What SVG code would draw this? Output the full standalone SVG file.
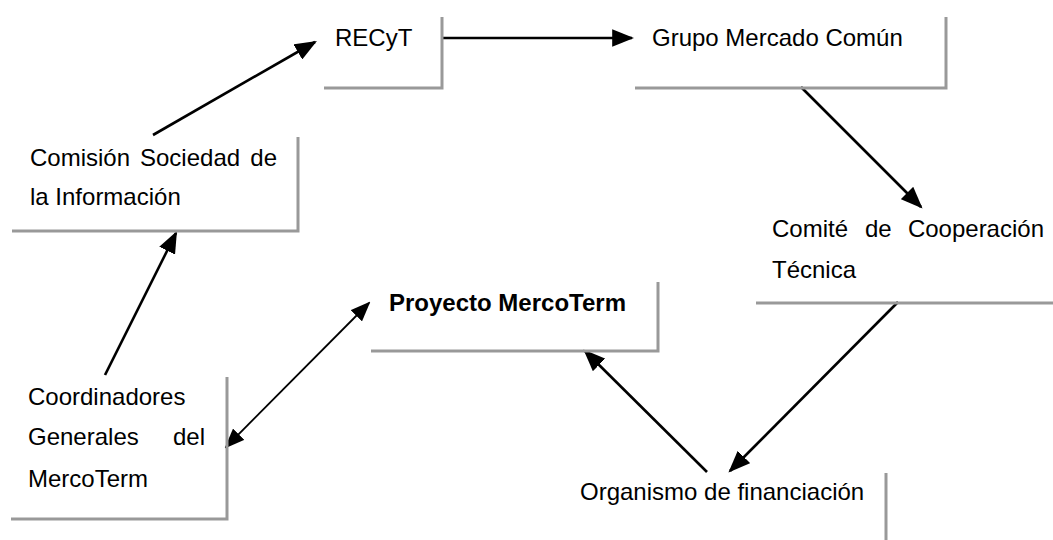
<svg xmlns="http://www.w3.org/2000/svg" width="1053" height="540" viewBox="0 0 1053 540">
<style>
  .bg { fill: #ffffff; }
  .frame { stroke: #999999; stroke-width: 3; fill: none; }
  .t { font-family: "Liberation Sans", Arial, sans-serif; font-size: 24px; fill: #000000; }
  .b { font-weight: bold; }
  .conn { stroke: #000000; stroke-width: 2.6; fill: none; }
  .thin { stroke-width: 1.8; }
</style>
<defs>
  <marker id="ah" viewBox="0 0 20 16" refX="18" refY="8" markerWidth="22" markerHeight="17.6" markerUnits="userSpaceOnUse" orient="auto">
    <path d="M0,0 L20,8 L0,16 z" fill="#000000"/>
  </marker>
  <marker id="ah2" viewBox="0 0 20 16" refX="18" refY="8" markerWidth="20" markerHeight="16" markerUnits="userSpaceOnUse" orient="auto-start-reverse">
    <path d="M0,0 L20,8 L0,16 z" fill="#000000"/>
  </marker>
</defs>
<rect class="bg" x="0" y="0" width="1053" height="540"/>

<g id="connectors">
  <line class="conn" x1="153" y1="135" x2="315" y2="42" marker-end="url(#ah)"/>
  <line class="conn" x1="443" y1="38" x2="632" y2="38" marker-end="url(#ah)"/>
  <line class="conn" x1="801" y1="87" x2="921" y2="207" marker-end="url(#ah)"/>
  <line class="conn" x1="898" y1="302" x2="730" y2="471" marker-end="url(#ah)"/>
  <line class="conn" x1="707" y1="472" x2="585" y2="351" marker-end="url(#ah)"/>
  <line class="conn" x1="105" y1="375" x2="176" y2="233" marker-end="url(#ah)"/>
  <line class="conn thin" x1="226" y1="447" x2="369" y2="303" marker-start="url(#ah2)" marker-end="url(#ah2)"/>
</g>

<g id="node-recyt">
  <polyline class="frame" points="442,17 442,88 324,88"/>
  <text class="t" x="335" y="46">RECyT</text>
</g>

<g id="node-grupo">
  <polyline class="frame" points="946,17 946,88 635,88"/>
  <text class="t" x="652" y="46">Grupo Mercado Común</text>
</g>

<g id="node-comision">
  <polyline class="frame" points="298,137 298,231 12,231"/>
  <text class="t" x="30" y="166">Comisión</text>
  <text class="t" x="140" y="166">Sociedad</text>
  <text class="t" x="277" y="166" text-anchor="end">de</text>
  <text class="t" x="30" y="205">la Información</text>
</g>

<g id="node-comite">
  <line class="frame" x1="756" y1="303" x2="1053" y2="303"/>
  <text class="t" x="772" y="237">Comité</text>
  <text class="t" x="865" y="237">de</text>
  <text class="t" x="1044" y="237" text-anchor="end">Cooperación</text>
  <text class="t" x="772" y="278">Técnica</text>
</g>

<g id="node-proyecto">
  <polyline class="frame" points="658,282 658,351 371,351"/>
  <text class="t b" x="389" y="311">Proyecto MercoTerm</text>
</g>

<g id="node-coordinadores">
  <polyline class="frame" points="227,377 227,519 11,519"/>
  <text class="t" x="28" y="405">Coordinadores</text>
  <text class="t" x="28" y="445">Generales</text>
  <text class="t" x="205" y="445" text-anchor="end">del</text>
  <text class="t" x="28" y="487">MercoTerm</text>
</g>

<g id="node-organismo">
  <line class="frame" x1="886" y1="473" x2="886" y2="540"/>
  <text class="t" x="580" y="500">Organismo de financiación</text>
</g>
</svg>
